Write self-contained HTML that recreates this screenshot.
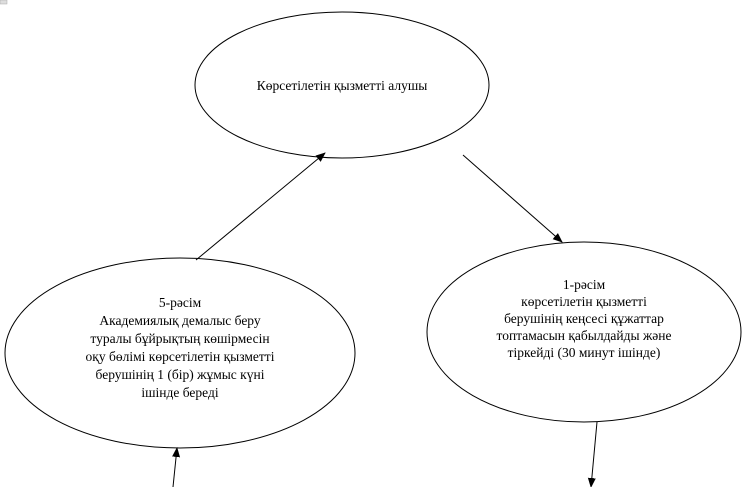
<!DOCTYPE html>
<html><head><meta charset="utf-8"><style>
html,body{margin:0;padding:0;background:#fff;}
svg{display:block}
text{font-family:"Liberation Serif",serif;font-size:13.5px;fill:#000;text-anchor:middle}
</style></head><body>
<svg width="746" height="487" viewBox="0 0 746 487">
<defs><marker id="a" markerWidth="10" markerHeight="10" refX="9" refY="5" orient="auto" markerUnits="userSpaceOnUse"><path d="M0,1 L10,5 L0,9 z" fill="#000"/></marker></defs>
<rect x="0" y="0" width="7" height="4" fill="#ddd" stroke="#aaa" stroke-width="0.5"/>
<ellipse cx="342" cy="85" rx="147" ry="73" fill="#fff" stroke="#000" stroke-width="1"/>
<ellipse cx="180" cy="353" rx="175" ry="95" fill="#fff" stroke="#000" stroke-width="1"/>
<ellipse cx="584" cy="332" rx="157" ry="90" fill="#fff" stroke="#000" stroke-width="1"/>
<line x1="196" y1="260" x2="325" y2="153" stroke="#000" marker-end="url(#a)"/>
<line x1="463" y1="155" x2="562" y2="242" stroke="#000" marker-end="url(#a)"/>
<line x1="173" y1="487" x2="177" y2="448" stroke="#000" marker-end="url(#a)"/>
<line x1="597" y1="422" x2="591" y2="487" stroke="#000" marker-end="url(#a)"/>
<text x="342" y="90">Көрсетілетін қызметті алушы</text>
<text x="180" y="307">5-рәсім</text>
<text x="180" y="325">Академиялық демалыс беру</text>
<text x="180" y="343">туралы бұйрықтың көшірмесін</text>
<text x="180" y="361">оқу бөлімі көрсетілетін қызметті</text>
<text x="180" y="379">берушінің 1 (бір) жұмыс күні</text>
<text x="180" y="397">ішінде береді</text>
<text x="584" y="289">1-рәсім</text>
<text x="584" y="306">көрсетілетін қызметті</text>
<text x="584" y="323">берушінің кеңсесі құжаттар</text>
<text x="584" y="340">топтамасын қабылдайды және</text>
<text x="584" y="357">тіркейді (30 минут ішінде)</text>
</svg>
</body></html>
